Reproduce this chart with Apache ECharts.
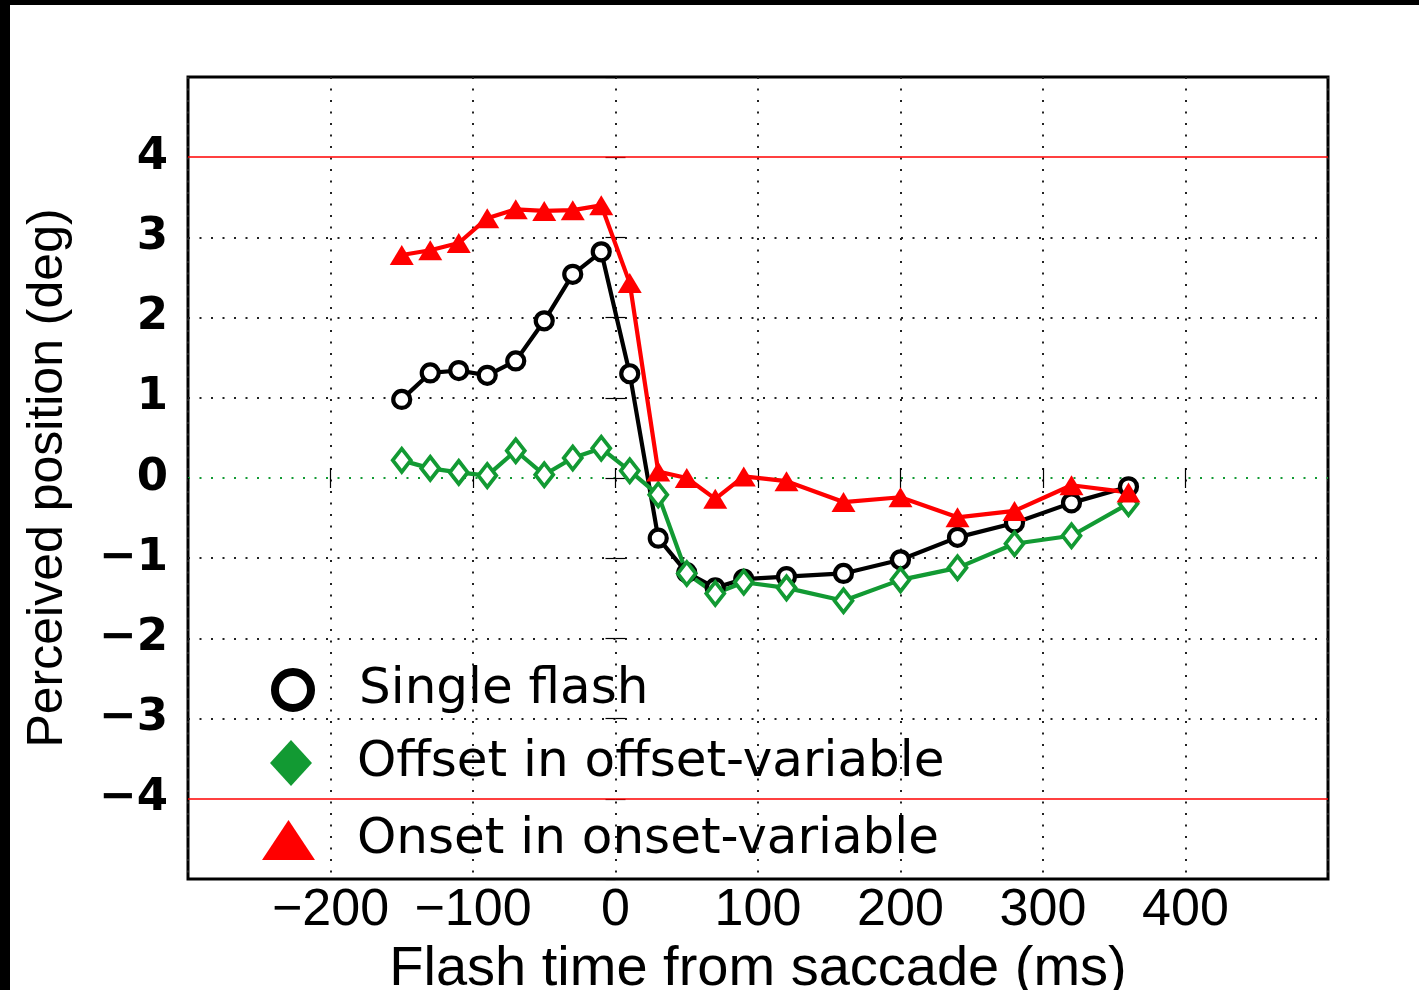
<!DOCTYPE html>
<html>
<head>
<meta charset="utf-8">
<title>Perceived position</title>
<script src="https://cdn.jsdelivr.net/npm/echarts@6/dist/echarts.min.js"></script>
<style>
  html, body { margin: 0; padding: 0; background: #000; }
  #chart { position: absolute; left: 10px; top: 5px; width: 1409px; height: 985px; background: #fff; }
</style>
</head>
<body>
<div id="chart"></div>
<script>
// flash times (ms) shared by all three conditions
var times = [-150, -130, -110, -90, -70, -50, -30, -10, 10, 30, 50, 70, 90, 120, 160, 200, 240, 280, 320, 360];
var singleFlash = [0.98, 1.31, 1.34, 1.28, 1.46, 1.96, 2.54, 2.82, 1.30, -0.75, -1.18, -1.37, -1.26, -1.23, -1.19, -1.02, -0.74, -0.56, -0.31, -0.11];
var offsetVar = [0.22, 0.12, 0.07, 0.03, 0.34, 0.04, 0.25, 0.37, 0.09, -0.21, -1.19, -1.44, -1.30, -1.37, -1.53, -1.27, -1.12, -0.82, -0.72, -0.32];
var onsetVar = [2.78, 2.84, 2.93, 3.24, 3.35, 3.33, 3.34, 3.40, 2.43, 0.08, 0.00, -0.26, 0.02, -0.04, -0.30, -0.24, -0.49, -0.41, -0.09, -0.18];
var seriesNames = ['Single flash', 'Offset in offset-variable', 'Onset in onset-variable'];
var xTicks = { min: -300, max: 500, step: 100 };
var yTicks = { min: -5, max: 5, step: 1 };
var limitLines = [4, -4];

var GREEN = '#129a33';
var RED = '#ff0000';

function pairs(ys) {
  return times.map(function (t, i) { return [t, ys[i]]; });
}

function minusLabel(v) {
  return String(v).replace('-', '\u2212');
}

// dotted grid colours, one per y tick from -5 to 5; zero line green,
// the +-4 lines are left to the red markLine
var yGridColors = [];
for (var v = yTicks.min; v <= yTicks.max; v += yTicks.step) {
  if (v === 0) yGridColors.push(GREEN);
  else if (Math.abs(v) >= 4) yGridColors.push('rgba(0,0,0,0)');
  else yGridColors.push('#222');
}

var chart = echarts.init(document.getElementById('chart'));

var legendText = { fontFamily: 'DejaVu Sans', fontSize: 50, color: '#000' };

var option = {
  animation: false,
  grid: {
    left: 178, right: 91, top: 72, bottom: 111,
    outerBoundsMode: 'none',
    show: true, borderColor: '#000', borderWidth: 3, backgroundColor: 'transparent'
  },
  legend: [
    {
      data: [{ name: seriesNames[0], icon: 'circle', itemStyle: { color: '#fff', borderColor: '#000', borderWidth: 8 } }],
      left: 261, top: 660, itemWidth: 42, itemHeight: 36, symbolKeepAspect: false,
      padding: 0, selectedMode: false,
      textStyle: Object.assign({ padding: [0, 0, 0, 40] }, legendText)
    },
    {
      data: [{ name: seriesNames[1], icon: 'diamond', itemStyle: { color: GREEN, borderWidth: 0 } }],
      left: 260, top: 733, itemWidth: 42, itemHeight: 46, symbolKeepAspect: false,
      padding: 0, selectedMode: false,
      textStyle: Object.assign({ padding: [0, 0, 0, 40] }, legendText)
    },
    {
      data: [{ name: seriesNames[2], icon: 'triangle', itemStyle: { color: RED, borderWidth: 0 } }],
      left: 252, top: 810, itemWidth: 53, itemHeight: 40, symbolKeepAspect: false,
      padding: 0, selectedMode: false,
      textStyle: Object.assign({ padding: [0, 0, 0, 37] }, legendText)
    }
  ],
  xAxis: [
    {
      type: 'value', min: xTicks.min, max: xTicks.max, interval: xTicks.step,
      position: 'bottom',
      name: 'Flash time from saccade (ms)',
      nameLocation: 'middle', nameGap: 56,
      nameTextStyle: { fontFamily: 'Liberation Sans', fontSize: 56, color: '#000' },
      axisLine: { show: false },
      axisTick: { inside: true, length: 10, lineStyle: { color: '#000', width: 1.2 } },
      axisLabel: {
        margin: 6, fontFamily: 'Liberation Sans', fontSize: 52, color: '#000',
        showMinLabel: false, showMaxLabel: false, formatter: minusLabel
      },
      splitLine: { show: true, lineStyle: { color: '#222', width: 2, type: [2, 9.5] } }
    },
    {
      type: 'value', min: xTicks.min, max: xTicks.max, interval: xTicks.step,
      position: 'top',
      axisLine: { show: false },
      axisTick: { inside: true, length: 10, lineStyle: { color: '#000', width: 1.2 } },
      axisLabel: { show: false },
      splitLine: { show: false }
    }
  ],
  yAxis: [
    {
      type: 'value', min: yTicks.min, max: yTicks.max, interval: yTicks.step,
      position: 'left',
      name: 'Perceived position (deg)',
      nameLocation: 'middle', nameGap: 115,
      nameTextStyle: { fontFamily: 'Liberation Sans', fontSize: 50, color: '#000' },
      axisLine: { show: false },
      axisTick: { inside: true, length: 10, lineStyle: { color: '#000', width: 1.2 } },
      axisLabel: {
        margin: 20, fontFamily: 'DejaVu Sans', fontWeight: 'bold', fontSize: 45, color: '#000',
        showMinLabel: false, showMaxLabel: false, formatter: minusLabel
      },
      splitLine: { show: true, lineStyle: { color: yGridColors, width: 2, type: [2, 9.5] } }
    },
    {
      type: 'value', min: yTicks.min, max: yTicks.max, interval: yTicks.step,
      position: 'right',
      axisLine: { show: false },
      axisTick: { inside: true, length: 10, lineStyle: { color: '#000', width: 1.2 } },
      axisLabel: { show: false },
      splitLine: { show: false }
    }
  ],
  series: [
    {
      name: seriesNames[0], type: 'line', data: pairs(singleFlash),
      symbol: 'circle', symbolSize: 17,
      lineStyle: { color: '#000', width: 4.2 },
      itemStyle: { color: '#fff', borderColor: '#000', borderWidth: 4.2 },
      markLine: {
        silent: true, symbol: ['none', 'none'], label: { show: false },
        lineStyle: { color: RED, width: 1.5, type: 'solid', opacity: 1 },
        emphasis: { disabled: true },
        data: limitLines.map(function (y) {
          return { yAxis: y, lineStyle: { color: RED, width: 1.5, type: 'solid' } };
        })
      }
    },
    {
      name: seriesNames[1], type: 'line', data: pairs(offsetVar),
      symbol: 'diamond', symbolSize: [18, 23],
      lineStyle: { color: GREEN, width: 4.2 },
      itemStyle: { color: '#fff', borderColor: GREEN, borderWidth: 3.8 }
    },
    {
      name: seriesNames[2], type: 'line', data: pairs(onsetVar),
      symbol: 'triangle', symbolSize: [24, 20],
      lineStyle: { color: RED, width: 4.2 },
      itemStyle: { color: RED }
    }
  ]
};

chart.setOption(option);
</script>
</body>
</html>
